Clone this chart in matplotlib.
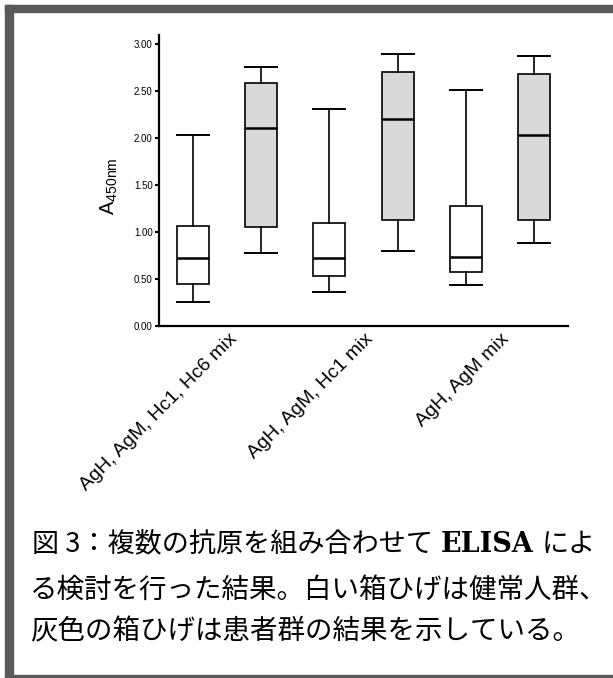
import matplotlib.pyplot as plt
from matplotlib.patches import Rectangle
import matplotlib.transforms as mtransforms

plt.rcParams['font.family'] = ['Liberation Sans', 'DejaVu Sans']

# box statistics: healthy (white) / patient (grey), per antigen mix
groups = ['AgH, AgM, Hc1, Hc6 mix', 'AgH, AgM, Hc1 mix', 'AgH, AgM mix']
group_pos = [1.5, 3.5, 5.5]
whislo = [0.25, 0.77, 0.36, 0.80, 0.43, 0.88]
q1 = [0.45, 1.05, 0.53, 1.13, 0.57, 1.13]
med = [0.72, 2.11, 0.72, 2.20, 0.73, 2.03]
q3 = [1.06, 2.59, 1.09, 2.70, 1.28, 2.68]
whishi = [2.03, 2.76, 2.31, 2.90, 2.51, 2.88]
fills = ['white', '#d9d9d9', 'white', '#d9d9d9', 'white', '#d9d9d9']

yticks = [0, 0.5, 1.0, 1.5, 2.0, 2.5, 3.0]

# caption, first line in three pieces (ELISA is set in bold serif)
cap1 = ['図 3：複数の抗原を組み合わせて', 'ELISA', 'によ']
cap_rest = ['る検討を行った結果。白い箱ひげは健常人群、',
            '灰色の箱ひげは患者群の結果を示している。']

fig = plt.figure(figsize=(6.13, 6.78), dpi=100)
ax = fig.add_axes([0.2594, 0.5196, 0.6672, 0.4288])

stats = []
for i in range(len(med)):
    stats.append({'whislo': whislo[i], 'q1': q1[i], 'med': med[i],
                  'q3': q3[i], 'whishi': whishi[i], 'fliers': []})

pos = list(range(1, len(stats) + 1))
bp = ax.bxp(stats, positions=pos, widths=0.47, patch_artist=True,
            showfliers=False,
            boxprops=dict(edgecolor='black', linewidth=1.2),
            whiskerprops=dict(color='black', linewidth=1.2),
            capprops=dict(color='black', linewidth=1.4),
            medianprops=dict(color='black', linewidth=1.8))
for patch, c in zip(bp['boxes'], fills):
    patch.set_facecolor(c)
for cap in bp['caps']:
    x = cap.get_xdata()
    mid = (x[0] + x[1]) / 2
    cap.set_xdata([mid - 0.235, mid + 0.235])

ax.set_xlim(0.5, 6.5)
ax.set_ylim(0, 3.1)
ax.set_yticks(yticks)
ax.set_yticklabels(['%.2f' % v for v in yticks], fontsize=7)
ax.set_xticks(group_pos)
ax.set_xticklabels([])
ax.tick_params(axis='x', length=0)
ax.tick_params(axis='y', length=3, width=1.5, pad=1.5)

# group labels, slanted, ending just right of the group centre
off = mtransforms.ScaledTranslation(0.07, -0.11, fig.dpi_scale_trans)
for g, x in zip(groups, group_pos):
    ax.text(x, 0, g, transform=ax.get_xaxis_transform() + off,
            fontsize=14, rotation=45, ha='right', va='center',
            rotation_mode='anchor')

for s in ['top', 'right']:
    ax.spines[s].set_visible(False)
for s in ['left', 'bottom']:
    ax.spines[s].set_linewidth(1.6)

ax.set_ylabel(r'A$_{\mathregular{450nm}}$', fontsize=14.5)
ax.yaxis.set_label_coords(-0.095, 0.48)

# caption under the chart
jp = ['Noto Sans CJK JP', 'DejaVu Sans']
r = fig.canvas.get_renderer()
y1 = 1 - 544 / 678
t = fig.text(32 / 613, y1, cap1[0], fontsize=19.5, family=jp,
             ha='left', va='center')
x_end = t.get_window_extent(r).x1
t = fig.text((x_end + 8) / 613, y1, cap1[1], fontsize=19.5,
             family=['DejaVu Serif'], weight='bold', ha='left', va='center')
x_end = t.get_window_extent(r).x1
fig.text((x_end + 8) / 613, y1, cap1[2], fontsize=19.5, family=jp,
         ha='left', va='center')
for line, y in zip(cap_rest, [590, 632]):
    fig.text(30 / 613, 1 - y / 678, line, fontsize=19.8, family=jp,
             ha='left', va='center')

# dark frame round the figure (left, top, bottom)
fig.patches.append(Rectangle((5 / 613, 0), 8 / 613, 1 - 5 / 678,
                             transform=fig.transFigure, color='#5a5a5a'))
fig.patches.append(Rectangle((5 / 613, 1 - 12 / 678), 1, 7 / 678,
                             transform=fig.transFigure, color='#5a5a5a'))
fig.patches.append(Rectangle((5 / 613, 0), 1, 3 / 678,
                             transform=fig.transFigure, color='#5a5a5a'))

fig.savefig('out.png', dpi=100)
